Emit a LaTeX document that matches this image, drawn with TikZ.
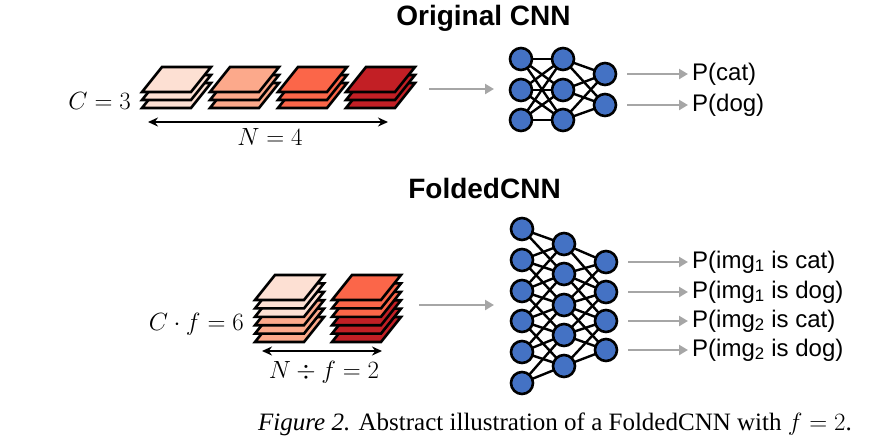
\documentclass[tikz,border=0pt]{standalone}
\usepackage{fontspec}
\setmainfont{Liberation Serif}
\setsansfont{Liberation Sans}
\usetikzlibrary{arrows.meta}
\definecolor{cA}{HTML}{FDE0D3}
\definecolor{cB}{HTML}{FCA98B}
\definecolor{cC}{HTML}{FB6649}
\definecolor{cD}{HTML}{C21F25}
\definecolor{nnblue}{HTML}{4472C4}
\definecolor{arrgray}{HTML}{A6A6A6}
\newcommand{\plate}[3]{\draw[platest,fill=#3] (#1,#2) -- ++(49,0) -- ++(20,-25) -- ++(-49,0) -- cycle;}
\begin{document}
\begin{tikzpicture}[x=1pt,y=-1pt,
  platest/.style={draw=black,line width=2.6pt,line join=miter},
  neuron/.style={circle,draw=black,fill=nnblue,line width=2.6pt,minimum size=22pt,inner sep=0pt},
  wire/.style={black,line width=2.4pt},
  grayarrow/.style={draw=arrgray,line width=2.8pt,-{Triangle[length=9pt,width=10pt]}},
  dimarrow/.style={draw=black,line width=1.8pt,{Stealth[length=10pt,width=9pt]}-{Stealth[length=10pt,width=9pt]}},
  title/.style={font=\fontsize{28}{32}\selectfont\sffamily\bfseries,anchor=base,inner sep=0pt},
  outlabel/.style={font=\fontsize{24}{27}\selectfont\sffamily,anchor=west,inner sep=0pt},
  mathlabel/.style={font=\fontsize{24}{28}\selectfont,inner sep=0pt}]
\useasboundingbox (0,0) rectangle (885,445);

% titles
\node[title] (t1) at (483.5,25) {Original CNN};
\node[title] (t2) at (484.5,198) {FoldedCNN};

% top stacks
\foreach \x/\c in {142/cA,210/cB,278/cC,346/cD}{
  \plate{\x}{108}{\c}
  \plate{\x}{100}{\c}
  \plate{\x}{92}{\c}
}
\node[mathlabel,anchor=base east] (c3) at (131,109) {$C=3$};
\coordinate (n4l) at (148,122);
\coordinate (n4r) at (388,122);
\draw[dimarrow] (n4l) -- (n4r);
\node[mathlabel,anchor=base] (n4) at (270,145) {$N=4$};

% bottom stacks
\plate{255}{342}{cB}
\plate{255}{333.6}{cB}
\plate{255}{325.2}{cB}
\plate{255}{316.8}{cA}
\plate{255}{308.4}{cA}
\plate{255}{300}{cA}
\plate{332}{342}{cD}
\plate{332}{333.6}{cD}
\plate{332}{325.2}{cD}
\plate{332}{316.8}{cC}
\plate{332}{308.4}{cC}
\plate{332}{300}{cC}
\node[mathlabel,anchor=base east] (cf6) at (244,330) {$C\cdot f=6$};
\coordinate (n2l) at (262,351);
\coordinate (n2r) at (382,351);
\draw[dimarrow] (n2l) -- (n2r);
\node[mathlabel,anchor=base] (nf2) at (324,378) {$N\div f=2$};

% input arrows
\coordinate (ia1) at (429,89);
\coordinate (ib1) at (494,89);
\draw[grayarrow] (ia1) -- (ib1);
\coordinate (ia2) at (419,305);
\coordinate (ib2) at (494,305);
\draw[grayarrow] (ia2) -- (ib2);

% top network
\foreach \i/\y in {1/59,2/90,3/120}{
  \coordinate (ta\i) at (521,\y);
  \coordinate (tb\i) at (563,\y);
}
\coordinate (tc1) at (605,74);
\coordinate (tc2) at (605,105);
\foreach \i in {1,2,3}{\foreach \j in {1,2,3}{\draw[wire] (ta\i) -- (tb\j);}}
\foreach \i in {1,2,3}{\foreach \j in {1,2}{\draw[wire] (tb\i) -- (tc\j);}}
\foreach \i in {1,2,3}{\node[neuron] (na\i) at (ta\i) {}; \node[neuron] (nb\i) at (tb\i) {};}
\foreach \j in {1,2}{\node[neuron] (nc\j) at (tc\j) {};}

% bottom network
\foreach \i/\y in {1/229,2/260,3/291,4/321,5/352,6/383}{\coordinate (ba\i) at (522,\y);}
\foreach \i/\y in {1/244,2/274,3/305,4/335,5/366}{\coordinate (bb\i) at (564,\y);}
\foreach \i/\y in {1/262,2/292,3/321,4/350}{\coordinate (bc\i) at (606,\y);}
\foreach \i/\j in {1/1,1/2,2/1,2/2,2/3,3/1,3/2,3/3,3/4,4/2,4/3,4/4,4/5,5/3,5/4,5/5,6/4,6/5}{\draw[wire] (ba\i) -- (bb\j);}
\foreach \i/\j in {1/1,1/2,2/1,2/2,2/3,3/1,3/2,3/3,3/4,4/2,4/3,4/4,5/3,5/4}{\draw[wire] (bb\i) -- (bc\j);}
\foreach \i in {1,...,6}{\node[neuron] (ma\i) at (ba\i) {};}
\foreach \i in {1,...,5}{\node[neuron] (mb\i) at (bb\i) {};}
\foreach \i in {1,...,4}{\node[neuron] (mc\i) at (bc\i) {};}

% outputs top
\node[outlabel] (pcat) at (692,74) {P(cat)};
\node[outlabel] (pdog) at (692,105) {P(dog)};
\draw[grayarrow] (nc1.east) ++(10,0) -- ([xshift=-4pt]pcat.west);
\draw[grayarrow] (nc2.east) ++(10,0) -- ([xshift=-4pt]pdog.west);

% outputs bottom
\node[outlabel] (q1) at (692,262) {P(img\textsubscript{1} is cat)};
\node[outlabel] (q2) at (692,292) {P(img\textsubscript{1} is dog)};
\node[outlabel] (q3) at (692,321) {P(img\textsubscript{2} is cat)};
\node[outlabel] (q4) at (692,350) {P(img\textsubscript{2} is dog)};
\foreach \k in {1,...,4}{\draw[grayarrow] (mc\k.east) ++(10,0) -- ([xshift=-4pt]q\k.west);}

% caption
\node[anchor=base west,inner sep=0pt,font=\fontsize{25}{30}\selectfont] (cap) at (258,430)
  {\textit{Figure 2.} Abstract illustration of a FoldedCNN with $f=2$.};
\end{tikzpicture}
\end{document}
